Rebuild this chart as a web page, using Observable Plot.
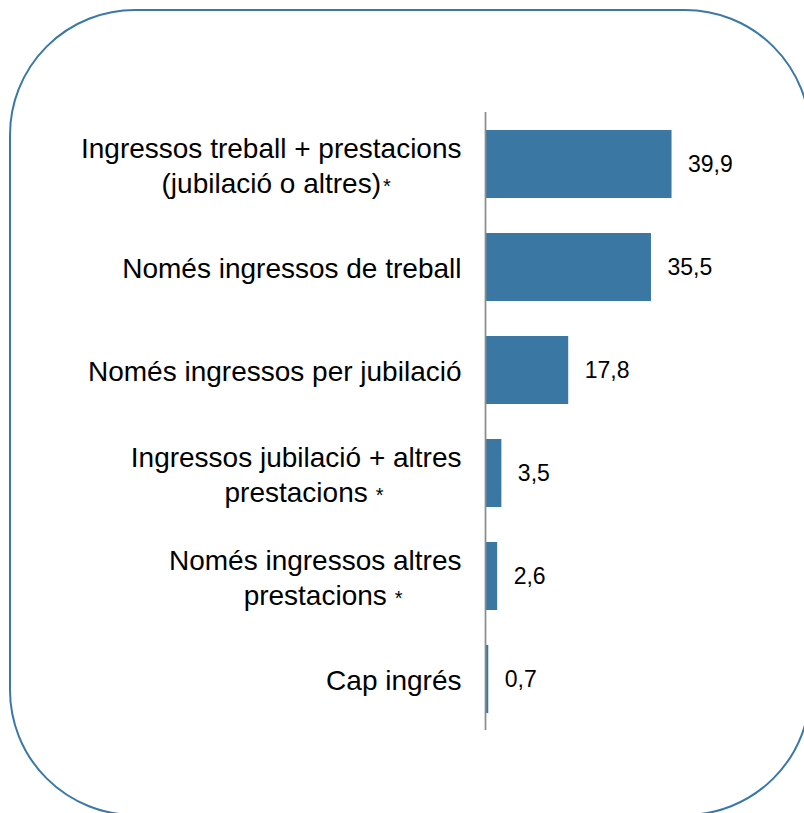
<!DOCTYPE html>
<html>
<head>
<meta charset="utf-8">
<script src="https://cdn.jsdelivr.net/npm/d3@7"></script>
<script src="https://cdn.jsdelivr.net/npm/@observablehq/plot@0.6"></script>
<style>
  html, body { margin: 0; padding: 0; background: #fff; overflow: hidden; }
  svg { display: block; font-family: Arial, "Liberation Sans", sans-serif; }
</style>
</head>
<body>
<div id="chart"></div>
<script>
const categories = [
  "Ingressos treball + prestacions\n(jubilació o altres)*",
  "Només ingressos de treball",
  "Només ingressos per jubilació",
  "Ingressos jubilació + altres\nprestacions *",
  "Només ingressos altres\nprestacions *",
  "Cap ingrés"
];
const values = [39.9, 35.5, 17.8, 3.5, 2.6, 0.7];
const valueLabels = ["39,9", "35,5", "17,8", "3,5", "2,6", "0,7"];

const rows = categories.map((c, i) => ({category: c, value: values[i], label: valueLabels[i]}));

const barColor = "#3a77a3";

const chart = Plot.plot({
  width: 804,
  height: 813,
  marginLeft: 485,
  marginRight: 132,
  marginTop: 112,
  marginBottom: 83,
  style: {fontFamily: "Arial, 'Liberation Sans', sans-serif", background: "transparent"},
  x: {domain: [0, 40], axis: null},
  y: {domain: categories, paddingInner: 0.34, paddingOuter: 0.17, axis: null},
  marks: [
    Plot.barX(rows, {x: "value", y: "category", fill: barColor}),
    Plot.ruleX([0], {stroke: "#8c8c8c", strokeWidth: 1.75}),
    Plot.text(rows, {x: "value", y: "category", text: "label", textAnchor: "start", dx: 16, fontSize: 23, fill: "#000"}),
    Plot.text(rows, {x: 0, y: "category", text: "category", textAnchor: "end", dx: -24, fontSize: 28, lineHeight: 1.22, fill: "#000"})
  ]
});

document.getElementById("chart").appendChild(chart);

const svg = d3.select(chart);

// rounded frame behind the chart
svg.insert("rect", ":first-child")
  .attr("x", 10).attr("y", 10)
  .attr("width", 800).attr("height", 805)
  .attr("rx", 125).attr("ry", 125)
  .attr("fill", "none")
  .attr("stroke", "#3a78a8")
  .attr("stroke-width", 2);

// centred multi-line labels (centred without the asterisk), small asterisk appended
const textGroups = chart.querySelectorAll('g[aria-label="text"]');
const labelGroup = textGroups[textGroups.length - 1];
d3.select(labelGroup).selectAll("text").each(function() {
  let lines = Array.from(this.childNodes).filter(n => n.nodeName.toLowerCase() === "tspan");
  if (!lines.length) lines = [this];
  const stars = [];
  lines.forEach(el => {
    const t = el.textContent;
    if (t.endsWith("*")) {
      const spaced = t.endsWith(" *");
      el.textContent = t.replace(/\s*\*$/, "");
      stars.push({el, spaced});
    }
  });
  const w = this.getBBox().width;
  this.setAttribute("text-anchor", "middle");
  const tr = this.getAttribute("transform") || "";
  this.setAttribute("transform", tr + ` translate(${-w / 2},0)`);
  stars.forEach(({el, spaced}) => {
    const len = el.getComputedTextLength();
    d3.select(el).append("tspan")
      .attr("x", len / 2 + (spaced ? 8 : 2))
      .attr("text-anchor", "start")
      .attr("font-size", 20)
      .text("*");
  });
});
</script>
</body>
</html>
